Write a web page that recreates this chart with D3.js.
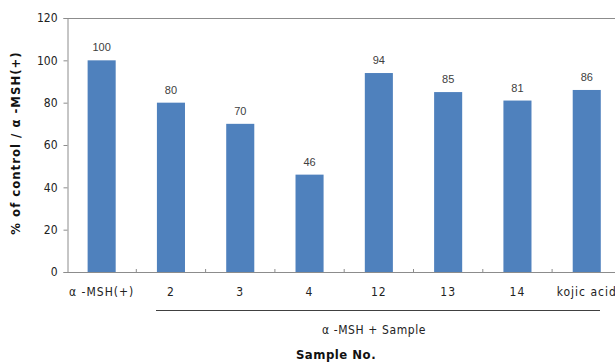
<!DOCTYPE html>
<html><head><meta charset="utf-8">
<script src="https://cdn.jsdelivr.net/npm/d3@7"></script>
<style>body{margin:0;background:#fff;overflow:hidden}svg{display:block}</style>
</head><body>
<script>
const categories = ["α -MSH(+)", "2", "3", "4", "12", "13", "14", "kojic acid"];
const values = [100, 80, 70, 46, 94, 85, 81, 86];
const yTicks = [0, 20, 40, 60, 80, 100, 120];

const W = 615, H = 362;
const m = {left: 67, top: 18, bottom: 272};
const step = 69.3;
const svg = d3.select("body").append("svg").attr("width", W).attr("height", H);

const x = d3.scaleBand().domain(categories).range([m.left, m.left + step * categories.length]).paddingInner(0.595).paddingOuter(0.2975);
const y = d3.scaleLinear().domain([0, 120]).range([m.bottom, m.top]);

const axisFont = "'DejaVu Sans Condensed', 'DejaVu Sans', sans-serif";

// frame top
svg.append("line").attr("x1", m.left).attr("x2", W).attr("y1", m.top + 0.5).attr("y2", m.top + 0.5).attr("stroke", "#8c8c8c");

// bars
svg.selectAll("rect.bar").data(values).join("rect")
  .attr("x", (d, i) => x(categories[i])).attr("width", x.bandwidth())
  .attr("y", d => y(d)).attr("height", d => y(0) - y(d))
  .attr("fill", "#4f81bd");

// value labels
svg.selectAll("text.val").data(values).join("text")
  .attr("x", (d, i) => x(categories[i]) + x.bandwidth() / 2)
  .attr("y", d => y(d) - 9)
  .attr("text-anchor", "middle").attr("font-family", "'Liberation Sans', Arial, sans-serif")
  .attr("font-size", 11).attr("fill", "#404040").text(d => d);

// y axis
const ya = svg.append("g").attr("transform", `translate(${m.left + 0.5},0)`)
  .call(d3.axisLeft(y).tickValues(yTicks).tickSize(4).tickPadding(6));
ya.select(".domain").attr("stroke", "#8c8c8c");
ya.selectAll(".tick line").attr("stroke", "#8c8c8c");
ya.selectAll(".tick text").attr("font-family", axisFont).attr("font-size", 12).attr("fill", "#222");

// x axis
const xa = svg.append("g").attr("transform", `translate(0,${m.bottom + 0.5})`)
  .call(d3.axisBottom(x).tickSize(0).tickPadding(15));
xa.select(".domain").attr("stroke", "#8c8c8c").attr("d", `M${m.left},0H${W}`);
xa.selectAll(".tick text").attr("font-family", axisFont).attr("font-size", 12).attr("fill", "#222").attr("letter-spacing", 1);
// boundary ticks pointing inward
const bounds = d3.range(1, categories.length).map(i => m.left + step * i);
svg.selectAll("line.bt").data(bounds).join("line")
  .attr("x1", d => d).attr("x2", d => d).attr("y1", m.bottom - 3).attr("y2", m.bottom)
  .attr("stroke", "#8c8c8c");

// bracket line
svg.append("line").attr("x1", 156).attr("x2", 600).attr("y1", 310.5).attr("y2", 310.5)
  .attr("stroke", "#404040").attr("stroke-width", 1.2);
svg.append("text").attr("x", 374).attr("y", 334).attr("text-anchor", "middle")
  .attr("font-family", axisFont).attr("font-size", 12).attr("letter-spacing", 0.6).attr("fill", "#222").text("α -MSH + Sample");
svg.append("text").attr("x", 336).attr("y", 359).attr("text-anchor", "middle")
  .attr("font-family", axisFont).attr("font-size", 13).attr("font-weight", "bold").attr("letter-spacing", 0.5).attr("fill", "#111").text("Sample No.");

// y label
svg.append("text").attr("transform", "translate(20,143) rotate(-90)").attr("text-anchor", "middle")
  .attr("font-family", axisFont).attr("font-size", 13).attr("font-weight", "bold").attr("letter-spacing", 1).attr("fill", "#111")
  .text("% of control / α -MSH(+)");
</script>
</body></html>
